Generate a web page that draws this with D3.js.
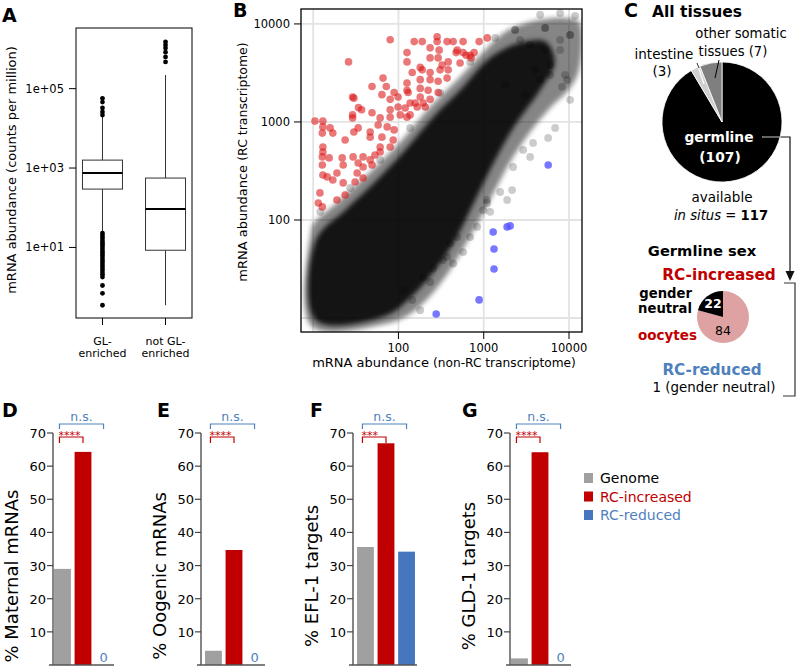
<!DOCTYPE html>
<html><head><meta charset="utf-8">
<script src="https://cdn.jsdelivr.net/npm/d3@7"></script>
<style>body{margin:0;background:#fff} text{font-family:"DejaVu Sans",sans-serif}</style>
</head><body><svg id="c" width="797" height="668" xmlns="http://www.w3.org/2000/svg"></svg>
<script>
// ---------------- DATA ----------------
// Panel A: box plots (counts per million)
const boxCats = ["GL-enriched", "not GL-enriched"];
const boxLabels = [["GL-", "enriched"], ["not GL-", "enriched"]];
const boxQ1 = [295, 8.5];
const boxMedian = [750, 93];
const boxQ3 = [1585, 560];
const whiskLow = [24, 0.35];
const whiskHigh = [20000, 220000];
const outliersGL = [57000, 46000, 32500, 25800, 21600,
  23, 20.5, 18, 15.5, 13.5, 12, 10.5, 9.2, 8, 7, 6.2, 5.4, 4.7, 4.1, 3.6, 3.2, 2.8, 2.4, 2.1, 1.8, 1.1, 0.7, 0.35];
const outliersNotGL = [1500000, 1250000, 1050000, 830000, 630000, 470000];
const yTicksA = [10, 1000, 100000];
const yTickLabelsA = ["1e+01", "1e+03", "1e+05"];

// Panel B: scatter (non-RC vs RC transcriptome)
const scatterTicks = [100, 1000, 10000];
const scatterGrid = [10, 100, 1000, 10000];
const cloudOuter = [[9.5,79],[10,91],[20.7,160],[46.6,309],[105,625],[235,1420],[528,2880],[1040,5430],[1780,8280],[3500,10500],[9000,11500],[13100,10500],[13100,3400],[10300,2220],[6000,1390],[3500,790],[2040,391],[1360,202],[957,112],[656,62.5],[404,30.9],[235,16.8],[137,11],[70,8.7],[9.5,8.3]];
const cloudCore = [[10.8,62.5],[23.7,126],[53,244],[120,518],[269,1180],[558,2220],[1040,4100],[1780,5600],[3050,6600],[5300,6600],[6800,4100],[4580,2120],[2330,930],[1360,410],[793,160],[462,62.5],[269,30.9],[137,16],[70,10.5],[10.8,9.5]];
const cloudFringe = [[573,47],[438,36],[334,39],[255,32],[372,42],[195,26],[180,12],[145,15.3],[114,19.3],[235,23.3],[404,58],[984,126],[1096,160],[837,85],[488,67],[692,67],[1880,160],[1190,121],[1560,193],[2150,202],[1096,149],[10300,1680],[6870,870],[5690,687],[3790,611],[3500,440],[2210,347],[8300,2280],[9500,2680],[2900,518],[4580,12400],[7870,12900],[11800,12100],[2670,6870],[5250,5430],[7870,6870],[4010,3400],[6000,3020],[12.1,121],[27.2,212],[61,410],[137,870],[308,1980],[692,4100],[1360,7200],[2330,8690],[3500,6110],[5250,9100],[7870,5430],[10300,7730],[6000,3820],[9000,3020],[4580,2680],[3050,1890],[1780,2390],[2330,8690],[5250,9100],[10300,7730]];
const redPts = [[80,6900],[26,4100],[126,5100],[126,4100],[153,6600],[190,6600],[235,5700],[284,7400],[284,6600],[300,5400],[372,6600],[438,6600],[488,5400],[573,6600],[475,5100],[573,5100],[692,4800],[771,5100],[883,6600],[1100,7200],[235,4500],[292,4500],[383,4100],[180,3600],[190,3400],[145,3200],[235,3200],[308,3400],[383,3400],[66,2800],[126,2500],[180,2700],[235,2700],[292,2600],[372,2800],[49,2300],[72,2300],[89,2000],[126,2100],[180,2200],[223,2100],[292,2000],[64,1900],[80,1700],[99,1800],[130,2000],[180,1800],[235,1700],[29,1800],[30,1750],[34,1400],[37,1330],[49,1240],[80,1330],[99,1420],[120,1390],[137,1560],[157,1560],[195,1560],[206,1420],[166,1420],[29,1180],[29,1100],[61,1100],[80,1120],[105,1180],[126,1120],[137,1180],[10.5,1020],[13,1020],[13,890],[12.8,770],[17,770],[15.8,870],[23.7,655],[30,790],[33.7,870],[46.6,790],[46.6,700],[57.8,930],[73.8,890],[64,700],[89,830],[86.7,655],[13,555],[61,555],[80,555],[528,4000],[622,4800],[325,3800],[711,4500],[12.8,440],[12.8,364],[13,494],[15.4,430],[21.9,430],[22.5,364],[29.4,440],[33.7,382],[38.5,440],[46.6,410],[53,460],[61,494],[38.5,347],[49,364],[13,288],[14.6,275],[17,256],[19,302],[22.5,239],[31,244],[32.8,302],[38.5,268],[23.7,180],[19,160],[12,189],[11.5,149],[12.8,136]];
const bluePts = [[5700,364],[2040,87],[1880,85],[1290,75.5],[1320,50.6],[1320,31.6],[883,15.3],[277,11]];

// Panel C: pies
const tissueLabels = ["germline", "intestine", "other somatic tissues"];
const tissueCounts = [107, 3, 7];
const sexLabels = ["oocytes", "gender neutral"];
const sexCounts = [84, 22];

// Panels D-G: bars (%)
const barCats = ["Genome", "RC-increased", "RC-reduced"];
const maternalPct = [29.0, 64.3, 0];
const oogenicPct = [4.3, 34.7, 0];
const efl1Pct = [35.6, 66.9, 34.2];
const gld1Pct = [2.0, 64.2, 0];
const barTitles = ["% Maternal mRNAs", "% Oogenic mRNAs", "% EFL-1 targets", "% GLD-1 targets"];
const barStars = ["****", "****", "***", "****"];
const pctTicks = [10, 20, 30, 40, 50, 60, 70];

// ---------------- DRAW ----------------
const svg = d3.select("#c");
const RED = "#c00000", BLUE = "#4f81bd", GREY = "#a0a0a0", BARBLUE = "#4676be";
const barColors = [GREY, RED, BARBLUE];

function txt(g, x, y, s, o = {}) {
  const t = g.append("text").attr("x", x).attr("y", y).text(s)
    .attr("font-size", o.size || 13).attr("fill", o.fill || "#000")
    .attr("text-anchor", o.anchor || "start").attr("font-weight", o.weight || "normal");
  if (o.style) t.attr("font-style", o.style);
  return t;
}
function letter(x, y, s) { txt(svg, x, y, s, {size: 19, weight: "bold"}).attr("font-family", '"Liberation Sans", Arial, sans-serif'); }

const defs = svg.append("defs");
defs.append("filter").attr("id", "blur").attr("x", "-10%").attr("y", "-10%").attr("width", "120%").attr("height", "120%")
  .append("feGaussianBlur").attr("stdDeviation", 2.4);
defs.append("clipPath").attr("id", "clipB").append("rect").attr("x", 301).attr("y", 9).attr("width", 281).attr("height", 323);

// ===== Panel A =====
letter(2, 22, "A");
const yA = d3.scaleLog().domain([0.167, 3.37e6]).range([318, 28]);
const xA = d3.scalePoint().domain(boxCats).range([76, 192]).padding(0.42);
const gA = svg.append("g");
yTicksA.forEach((v, i) => {
  gA.append("line").attr("x1", 69).attr("x2", 76).attr("y1", yA(v)).attr("y2", yA(v)).attr("stroke", "#000");
  txt(gA, 64, yA(v) + 4, yTickLabelsA[i], {size: 11.5, anchor: "end"});
});
const outl = [outliersGL, outliersNotGL];
boxCats.forEach((c, i) => {
  const cx = xA(c), w = 40;
  gA.append("line").attr("x1", cx).attr("x2", cx).attr("y1", yA(whiskLow[i])).attr("y2", yA(boxQ1[i])).attr("stroke", "#333");
  gA.append("line").attr("x1", cx).attr("x2", cx).attr("y1", yA(boxQ3[i])).attr("y2", yA(whiskHigh[i])).attr("stroke", "#333");
  gA.append("rect").attr("x", cx - w / 2).attr("y", yA(boxQ3[i])).attr("width", w).attr("height", yA(boxQ1[i]) - yA(boxQ3[i]))
    .attr("fill", "#fff").attr("stroke", "#333");
  gA.append("line").attr("x1", cx - w / 2).attr("x2", cx + w / 2).attr("y1", yA(boxMedian[i])).attr("y2", yA(boxMedian[i])).attr("stroke", "#000").attr("stroke-width", 2);
  gA.selectAll(null).data(outl[i]).enter().append("circle").attr("cx", cx).attr("cy", d => yA(d)).attr("r", 2.4).attr("fill", "#000");
  gA.append("line").attr("x1", cx).attr("x2", cx).attr("y1", 318).attr("y2", 325).attr("stroke", "#000");
  const t = gA.append("text").attr("text-anchor", "middle").attr("font-size", 11);
  t.append("tspan").attr("x", cx).attr("y", 345).text(boxLabels[i][0]);
  t.append("tspan").attr("x", cx).attr("y", 357).text(boxLabels[i][1]);
});
gA.append("rect").attr("x", 76).attr("y", 28).attr("width", 116).attr("height", 290).attr("fill", "none").attr("stroke", "#000");
gA.append("text").attr("transform", "translate(16,170) rotate(-90)").attr("text-anchor", "middle").attr("font-size", 13)
  .text("mRNA abundance (counts per million)");

// ===== Panel B =====
letter(233, 17, "B");
const xB = d3.scaleLog().domain([7.2, 14200]).range([301, 582]);
const yB = d3.scaleLog().domain([7.2, 14200]).range([332, 9]);
const gB = svg.append("g");
const gBp = gB.append("g").attr("clip-path", "url(#clipB)");
scatterGrid.forEach(v => {
  gBp.append("line").attr("x1", xB(v)).attr("x2", xB(v)).attr("y1", 9).attr("y2", 332).attr("stroke", "#e3e3e3").attr("stroke-width", 1.8);
  gBp.append("line").attr("y1", yB(v)).attr("y2", yB(v)).attr("x1", 301).attr("x2", 582).attr("stroke", "#e3e3e3").attr("stroke-width", 1.8);
});
const lineB = d3.line().x(d => xB(d[0])).y(d => yB(d[1])).curve(d3.curveCatmullRomClosed.alpha(0.5));
gBp.append("path").attr("d", lineB(cloudOuter)).attr("fill", "#000").attr("fill-opacity", 0.48).attr("filter", "url(#blur)");
gBp.append("path").attr("d", lineB(cloudCore)).attr("fill", "#000").attr("fill-opacity", 0.85).attr("filter", "url(#blur)");
gBp.selectAll(null).data(cloudFringe).enter().append("circle").attr("cx", d => xB(d[0])).attr("cy", d => yB(d[1])).attr("r", 3.9)
  .attr("fill", "#000").attr("fill-opacity", 0.2);
gBp.selectAll(null).data(redPts).enter().append("circle").attr("cx", d => xB(d[0])).attr("cy", d => yB(d[1])).attr("r", 3.8)
  .attr("fill", "rgb(218,22,22)").attr("fill-opacity", 0.58);
gBp.selectAll(null).data(bluePts).enter().append("circle").attr("cx", d => xB(d[0])).attr("cy", d => yB(d[1])).attr("r", 3.8)
  .attr("fill", "rgb(85,85,255)").attr("fill-opacity", 0.8);
gB.append("rect").attr("x", 301).attr("y", 9).attr("width", 281).attr("height", 323).attr("fill", "none").attr("stroke", "#000").attr("stroke-width", 1.3);
scatterTicks.forEach(v => {
  gB.append("line").attr("x1", xB(v)).attr("x2", xB(v)).attr("y1", 332).attr("y2", 339).attr("stroke", "#000");
  txt(gB, xB(v), 352, d3.format("d")(v), {size: 11.5, anchor: "middle"});
  gB.append("line").attr("x1", 294).attr("x2", 301).attr("y1", yB(v)).attr("y2", yB(v)).attr("stroke", "#000");
  txt(gB, 290, yB(v) + 4, d3.format("d")(v), {size: 11.5, anchor: "end"});
});
const xt = gB.append("text").attr("x", 444).attr("y", 367).attr("text-anchor", "middle");
xt.append("tspan").attr("font-size", 13).text("mRNA abundance ");
xt.append("tspan").attr("font-size", 12.2).text("(non-RC transcriptome)");
const yt = gB.append("text").attr("transform", "translate(247,162) rotate(-90)").attr("text-anchor", "middle");
yt.append("tspan").attr("font-size", 13).text("mRNA abundance ");
yt.append("tspan").attr("font-size", 12.5).text("(RC transcriptome)");

// ===== Panel C =====
letter(624, 17, "C");
const gC = svg.append("g");
txt(gC, 652, 17, "All tissues", {size: 15.5, weight: "bold"});
const pie = d3.pie().sort(null);
const arc1 = d3.arc().innerRadius(0).outerRadius(60);
const pieCol = ["#000", "#cfcfcf", "#7f7f7f"];
const p1 = gC.append("g").attr("transform", "translate(722,122)");
p1.selectAll(null).data(pie(tissueCounts)).enter().append("path").attr("d", arc1)
  .attr("fill", (d, i) => pieCol[i]).attr("stroke", "#fff").attr("stroke-width", 0.8);
txt(gC, 741, 38, "other somatic", {size: 13.2, anchor: "middle"});
txt(gC, 733, 56, "tissues (" + tissueCounts[2] + ")", {size: 13.2, anchor: "middle"});
txt(gC, 664, 59, tissueLabels[1], {size: 13.5, anchor: "middle"});
txt(gC, 662, 76, "(" + tissueCounts[1] + ")", {size: 13.5, anchor: "middle"});
gC.append("line").attr("x1", 697).attr("y1", 63).attr("x2", 704).attr("y2", 84).attr("stroke", "#fff").attr("stroke-width", 1.2);
gC.append("line").attr("x1", 697).attr("y1", 63).attr("x2", 699).attr("y2", 68).attr("stroke", "#333").attr("stroke-width", 1);
gC.append("line").attr("x1", 719).attr("y1", 60).attr("x2", 715).attr("y2", 78).attr("stroke", "#000").attr("stroke-width", 1);
txt(gC, 719, 142, tissueLabels[0], {size: 13.8, anchor: "middle", weight: "bold", fill: "#fff"});
txt(gC, 720, 162, "(" + tissueCounts[0] + ")", {size: 13.8, anchor: "middle", weight: "bold", fill: "#fff"});
gC.append("line").attr("x1", 762).attr("x2", 781).attr("y1", 137).attr("y2", 137).attr("stroke", "#999").attr("stroke-width", 1.3);
gC.append("path").attr("d", "M781,137H790V273").attr("fill", "none").attr("stroke", "#111").attr("stroke-width", 1.2);
gC.append("path").attr("d", "M785.5,271L794.5,271L790,281Z").attr("fill", "#111");
txt(gC, 722, 202, "available", {size: 13.5, anchor: "middle"});
const ins = gC.append("text").attr("x", 721).attr("y", 220).attr("text-anchor", "middle").attr("font-size", 13.2);
ins.append("tspan").attr("font-style", "italic").text("in situs");
ins.append("tspan").text(" = ");
ins.append("tspan").attr("font-weight", "bold").text(d3.sum(tissueCounts));
txt(gC, 702, 256, "Germline sex", {size: 14.7, anchor: "middle", weight: "bold"});
txt(gC, 719, 280, "RC-increased", {size: 15.3, anchor: "middle", weight: "bold", fill: RED});
gC.append("path").attr("d", "M784,283H795V396H783").attr("fill", "none").attr("stroke", "#333").attr("stroke-width", 1.2);
const arc2 = d3.arc().innerRadius(0).outerRadius(26);
const p2 = gC.append("g").attr("transform", "translate(723,317)");
p2.selectAll(null).data(pie(sexCounts)).enter().append("path").attr("d", arc2)
  .attr("fill", (d, i) => i === 0 ? "#dfa2a2" : "#000");
txt(gC, 713, 308, sexCounts[1], {size: 12.5, anchor: "middle", weight: "bold", fill: "#fff"});
txt(gC, 723, 335, sexCounts[0], {size: 12.5, anchor: "middle"});
txt(gC, 692, 298, "gender", {size: 13.2, anchor: "end", weight: "bold"});
txt(gC, 692, 313, "neutral", {size: 13.2, anchor: "end", weight: "bold"});
txt(gC, 697, 340, sexLabels[0], {size: 13.5, anchor: "end", weight: "bold", fill: RED});
txt(gC, 712, 375, "RC-reduced", {size: 15.2, anchor: "middle", weight: "bold", fill: BLUE});
txt(gC, 714, 392, "1 (gender neutral)", {size: 13.4, anchor: "middle"});

// ===== Panels D-G =====
const barVals = [maternalPct, oogenicPct, efl1Pct, gld1Pct];
const letters = ["D", "E", "F", "G"];
const lay = [{ax: 53, bs: 54, lx: 2}, {ax: 201, bs: 205, lx: 157}, {ax: 353, bs: 357, lx: 310}, {ax: 510, bs: 511, lx: 462}];
const yBar = d3.scaleLinear().domain([0, 70]).range([665, 433]);
barVals.forEach((vals, p) => {
  const L = lay[p];
  const g = svg.append("g");
  letter(L.lx, 417, letters[p]);
  const xb = d3.scaleBand().domain(barCats).range([L.bs - 1, L.bs + 59]).paddingInner(0.18).paddingOuter(0.05);
  const rows = barCats.map((c, i) => ({c, v: vals[i], col: barColors[i]}));
  g.selectAll(null).data(rows.filter(r => r.v > 0)).enter().append("rect")
    .attr("x", r => xb(r.c)).attr("width", xb.bandwidth())
    .attr("y", r => yBar(r.v)).attr("height", r => yBar(0) - yBar(r.v))
    .attr("fill", r => r.col);
  rows.forEach(r => { if (r.v === 0) txt(g, xb(r.c) + xb.bandwidth() / 2, 662, "0", {size: 13, anchor: "middle", fill: BLUE}); });
  g.append("line").attr("x1", L.ax).attr("x2", L.ax).attr("y1", yBar(70)).attr("y2", 665).attr("stroke", "#444").attr("stroke-width", 1.3);
  g.append("line").attr("x1", L.ax - 4).attr("x2", L.bs + 60).attr("y1", 665).attr("y2", 665).attr("stroke", "#555").attr("stroke-width", 1.3);
  pctTicks.forEach(t => {
    g.append("line").attr("x1", L.ax - 6).attr("x2", L.ax).attr("y1", yBar(t)).attr("y2", yBar(t)).attr("stroke", "#444").attr("stroke-width", 1.2);
    txt(g, L.ax - 7, yBar(t) + 5, t, {size: 13, anchor: "end"});
  });
  g.append("text").attr("transform", `translate(${L.ax - 35},576) rotate(-90)`).attr("text-anchor", "middle").attr("font-size", 18).text(barTitles[p]);
  const c0 = xb(barCats[0]) + xb.bandwidth() / 2 - 3, c1 = xb(barCats[1]) + xb.bandwidth() / 2, c2 = xb(barCats[2]) + xb.bandwidth() / 2;
  g.append("path").attr("d", `M${c0},429V424H${c2}V429`).attr("fill", "none").attr("stroke", BLUE).attr("stroke-width", 1.2);
  txt(g, (c0 + c2) / 2, 421, "n.s.", {size: 12.5, anchor: "middle", fill: BLUE});
  g.append("path").attr("d", `M${c0},443V437H${c1}V443`).attr("fill", "none").attr("stroke", RED).attr("stroke-width", 1.2);
  txt(g, c0 - 1, 439, barStars[p], {size: 11, anchor: "start", fill: RED});
});

// Legend
const gL = svg.append("g");
barCats.forEach((c, i) => {
  gL.append("rect").attr("x", 584).attr("y", 473 + i * 18.5).attr("width", 9).attr("height", 10).attr("fill", barColors[i]);
  txt(gL, 600, 483 + i * 18.5, c, {size: 14, fill: i === 0 ? "#000" : (i === 1 ? RED : BLUE)});
});
</script></body></html>
